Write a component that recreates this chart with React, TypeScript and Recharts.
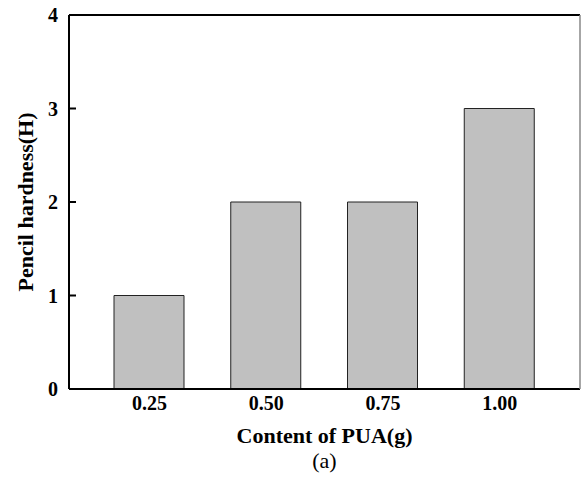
import React from "react";
import { BarChart, Bar, XAxis, YAxis } from "recharts";

const contents = ["0.25", "0.50", "0.75", "1.00"];
const hardness = [1, 2, 2, 3];
const yTicks = [0, 1, 2, 3, 4];
const rightTicks = [0, 1, 2, 3, 4, 5];

const data = contents.map((c, i) => ({ content: c, hardness: hardness[i] }));

const FONT = "Liberation Serif";

const YTick = (props: any) => {
  const { x, y, payload } = props;
  return (
    <g>
      <line x1={x + 11} x2={x + 18} y1={y} y2={y} stroke="#000" strokeWidth={2} />
      <text x={x} y={y + 7} textAnchor="end" style={{ fontFamily: FONT, fontWeight: 700, fontSize: 20 }} fill="#000">
        {payload.value}
      </text>
    </g>
  );
};

const XTick = (props: any) => {
  const { x, y, payload } = props;
  return (
    <text x={x} y={y + 21} textAnchor="middle" style={{ fontFamily: FONT, fontWeight: 700, fontSize: 20 }} fill="#000">
      {payload.value}
    </text>
  );
};

const XLabel = (props: any) => {
  const vb = props.viewBox || {};
  const cx = (vb.x ?? 0) + (vb.width ?? 0) / 2;
  return (
    <g>
      <text x={cx} y={443} textAnchor="middle" style={{ fontFamily: FONT, fontWeight: 700, fontSize: 22 }} fill="#000">
        Content of PUA(g)
      </text>
      <text x={cx} y={468} textAnchor="middle" style={{ fontFamily: FONT, fontWeight: 400, fontSize: 22 }} fill="#000">
        (a)
      </text>
    </g>
  );
};

const YLabel = (props: any) => {
  const vb = props.viewBox || {};
  const cy = (vb.y ?? 0) + (vb.height ?? 0) / 2;
  return (
    <text
      x={33}
      y={cy}
      transform={`rotate(-90, 33, ${cy})`}
      textAnchor="middle"
      style={{ fontFamily: FONT, fontWeight: 700, fontSize: 22 }}
      fill="#000"
    >
      Pencil hardness(H)
    </text>
  );
};

export default function App() {
  return (
    <div style={{ position: "absolute", left: 0, top: 0, background: "#fff" }}>
      <BarChart width={581} height={479} data={data} margin={{ top: 14, right: 0, left: 0, bottom: 30 }}>
        <XAxis
          dataKey="content"
          padding={{ left: 22, right: 22 }}
          axisLine={{ stroke: "#000", strokeWidth: 2 }}
          tickLine={false}
          tickSize={0}
          tickMargin={0}
          tick={<XTick />}
          height={60}
          label={<XLabel />}
        />
        <XAxis
          xAxisId="top"
          orientation="top"
          dataKey="content"
          height={1}
          axisLine={{ stroke: "#000", strokeWidth: 2 }}
          tick={false}
          tickLine={false}
        />
        <YAxis
          domain={[0, 4]}
          ticks={yTicks}
          width={69}
          axisLine={{ stroke: "#000", strokeWidth: 2 }}
          tickLine={false}
          tickSize={0}
          tickMargin={11}
          tick={<YTick />}
          label={<YLabel />}
          allowDataOverflow
        />
        <YAxis
          yAxisId="right"
          orientation="right"
          domain={[0, 5]}
          ticks={rightTicks}
          width={1}
          axisLine={{ stroke: "#888", strokeWidth: 1.5 }}
          tickLine={{ stroke: "#aaa", strokeWidth: 1 }}
          tickSize={-3}
          tick={() => <g />}
        />
        <Bar dataKey="hardness" fill="#c0c0c0" stroke="#222" strokeWidth={1} barSize={70} isAnimationActive={false} />
      </BarChart>
    </div>
  );
}
